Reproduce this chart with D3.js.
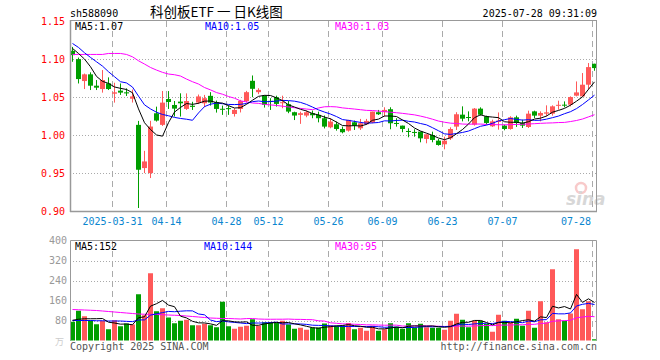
<!DOCTYPE html>
<html><head><meta charset="utf-8">
<script src="https://cdn.jsdelivr.net/npm/d3@7/dist/d3.min.js"></script>
<style>html,body{margin:0;padding:0;background:#fff;}svg{display:block;}</style>
</head><body>
<svg id="c" width="660" height="360"></svg>
<script>
const dates = ["2025-03-20","2025-03-21","2025-03-24","2025-03-25","2025-03-26","2025-03-27","2025-03-28","2025-03-31",
"2025-04-01","2025-04-02","2025-04-03","2025-04-07","2025-04-08","2025-04-09","2025-04-10","2025-04-11",
"2025-04-14","2025-04-15","2025-04-16","2025-04-17","2025-04-18","2025-04-21","2025-04-22","2025-04-23","2025-04-24","2025-04-25",
"2025-04-28","2025-04-29","2025-04-30","2025-05-06","2025-05-07","2025-05-08","2025-05-09",
"2025-05-12","2025-05-13","2025-05-14","2025-05-15","2025-05-16","2025-05-19","2025-05-20","2025-05-21","2025-05-22","2025-05-23",
"2025-05-26","2025-05-27","2025-05-28","2025-05-29","2025-05-30","2025-06-03","2025-06-04","2025-06-05","2025-06-06",
"2025-06-09","2025-06-10","2025-06-11","2025-06-12","2025-06-13","2025-06-16","2025-06-17","2025-06-18","2025-06-19","2025-06-20",
"2025-06-23","2025-06-24","2025-06-25","2025-06-26","2025-06-27","2025-06-30","2025-07-01","2025-07-02","2025-07-03","2025-07-04",
"2025-07-07","2025-07-08","2025-07-09","2025-07-10","2025-07-11","2025-07-14","2025-07-15","2025-07-16","2025-07-17","2025-07-18",
"2025-07-21","2025-07-22","2025-07-23","2025-07-24","2025-07-25","2025-07-28"];

const openP = [1.1109,1.100,1.0712,1.080,1.0651,1.0607,1.0682,1.0546,1.0586,1.0564,1.048,1.0137,0.957,0.9504,1.0289,1.0137,
1.0477,1.0398,1.0442,1.0346,1.0388,1.043,1.042,1.0518,1.0434,1.0348,1.0357,1.028,1.0346,1.045,1.0715,1.0566,1.0522,
1.0452,1.050,1.0421,1.0408,1.0303,1.0268,1.0259,1.029,1.0268,1.0224,1.0105,1.0145,1.0083,1.0061,1.0171,1.0092,1.0145,1.0167,1.0303,
1.0303,1.0342,1.0162,1.0127,1.0057,1.0044,1.0048,0.9952,1.0004,0.993,0.9882,0.996,1.0114,1.0271,1.024,1.014,1.035,1.0249,1.0118,1.0175,
1.0127,1.0083,1.0236,1.0162,1.0109,1.0314,1.0258,1.0284,1.0284,1.0393,1.0402,1.0402,1.052,1.0511,1.0664,1.0939];
const closeP = [1.1052,1.0738,1.080,1.0651,1.0625,1.0725,1.0607,1.0564,1.056,1.055,1.051,0.9548,0.9657,1.0115,1.0193,1.0429,
1.0437,1.035,1.042,1.045,1.0373,1.051,1.0487,1.043,1.0346,1.034,1.0343,1.0333,1.045,1.0566,1.061,1.0596,1.040,
1.0439,1.0412,1.0434,1.0311,1.0259,1.029,1.0303,1.0263,1.0224,1.0114,1.018,1.0083,1.004,1.0202,1.0127,1.0158,1.0189,1.0311,1.0276,
1.0333,1.0158,1.0154,1.0083,1.0048,1.0035,0.996,1.0013,0.9939,0.9873,0.993,1.0083,1.0276,1.0218,1.0231,1.035,1.027,1.0162,1.0183,1.0192,
1.0083,1.0236,1.0162,1.0127,1.0284,1.0258,1.0293,1.0301,1.038,1.040,1.0393,1.0502,1.0563,1.0664,1.0895,1.0882];
const highP = [1.116,1.102,1.081,1.0826,1.0725,1.0856,1.076,1.069,1.068,1.0616,1.060,1.0189,0.9796,1.019,1.0376,1.0581,
1.058,1.045,1.0551,1.055,1.044,1.0535,1.053,1.0566,1.0456,1.039,1.039,1.0355,1.0465,1.0583,1.0785,1.0618,1.0522,
1.0487,1.052,1.052,1.045,1.031,1.031,1.0325,1.0325,1.031,1.026,1.0224,1.018,1.0114,1.0202,1.0193,1.0215,1.0215,1.0311,1.0333,
1.0368,1.0368,1.0224,1.0127,1.0092,1.0079,1.0048,1.0013,1.0048,0.9952,0.9982,1.0105,1.0303,1.038,1.0314,1.0358,1.0367,1.0258,1.0205,1.030,
1.014,1.025,1.0258,1.0205,1.0323,1.0323,1.0314,1.0393,1.0393,1.0454,1.0445,1.0511,1.0707,1.0817,1.0948,1.0939];
const lowP = [1.0965,1.068,1.0607,1.0594,1.0594,1.056,1.0594,1.0429,1.053,1.0516,1.043,0.9046,0.9504,0.9439,1.018,1.0123,
1.0346,1.0246,1.0246,1.0333,1.0333,1.041,1.037,1.039,1.0298,1.0268,1.0268,1.0246,1.030,1.043,1.050,1.054,1.0364,
1.0333,1.0377,1.0355,1.029,1.020,1.015,1.0237,1.0224,1.017,1.009,1.0092,1.0061,1.0026,1.0048,1.007,1.007,1.0136,1.0158,1.0267,
1.0246,1.0079,1.0114,1.004,0.9974,0.9982,0.9908,0.9895,0.9908,0.9864,0.9816,0.9939,1.007,1.0183,1.0183,1.0127,1.0258,1.014,1.011,1.0074,
1.0066,1.0074,1.011,1.0096,1.0096,1.0227,1.0183,1.0249,1.0258,1.0336,1.0367,1.038,1.0511,1.0511,1.0598,1.0847];
const volume = [75,119,97,80,65,79,45,81,57,68,64,185,101,269,117,129,92,69,79,83,61,61,67,61,53,155,57,47,55,59,85,59,73,
73,71,79,64,47,51,43,52,52,68,61,59,60,70,45,51,39,59,39,45,69,55,47,69,52,67,53,51,51,43,79,107,83,53,79,79,66,35,103,
79,71,87,59,119,51,157,73,285,85,79,108,365,125,157,5];

const ma5Head = [1.114,1.1074,1.100,1.090];
const ma10Head = [1.1205,1.1153,1.1083,1.1022,1.0965,1.0908,1.0834,1.0769,1.0703];
const ma30Head = [1.1061,1.1061,1.1061,1.1061,1.1061,1.1061,1.1074,1.1074,1.1074,1.1061,1.103,1.0978,1.0935,1.089,1.0856,
1.0826,1.0804,1.0795,1.0778,1.0738,1.0703,1.0673,1.0627,1.0596,1.0561,1.0539,1.0509,1.0487,1.0452];
const vma5Head = [81,85,87,87];
const vma10Head = [80,80,80,80,79,79,78,78,78];
const vma30Head = [124,123,122,121,120,118,116,114,112,110,108,106,105,105,104,103,102,101,100,98,96,94,92,90,89,88,88,87,86];

const priceTicks = [1.15,1.10,1.05,1.00,0.95,0.90];
const volTicks = [400,320,240,160,80];
const dateTicks = ["2025-03-31","2025-04-14","2025-04-28","2025-05-12","2025-05-26","2025-06-09","2025-06-23","2025-07-07","2025-07-28"];

const RED = "#ff5959", GREEN = "#009e00", GRID = "#aaaaaa", FRAME = "#999999";
const MONO = "'DejaVu Sans Mono', monospace";

function ma(arr, n, head) {
  return arr.map((_, i) => i < n - 1 ? head[i] : d3.mean(arr.slice(i - n + 1, i + 1)));
}

const svg = d3.select("#c");
const L = 70, R = 597;
const x = d3.scaleBand().domain(dates).range([L - 0.5, L - 0.5 + dates.length * 6]);
const cx = d => x(d) + 3;
const y = d3.scaleLinear().domain([0.90, 1.15]).range([211.5, 21]);
const yv = d3.scaleLinear().domain([0, 400]).range([340.5, 240.5]);

const data = dates.map((d, i) => ({d, o: openP[i], c: closeP[i], h: highP[i], l: lowP[i], v: volume[i], up: closeP[i] >= openP[i]}));

// header
svg.append("text").attr("x", 70).attr("y", 17).attr("font-family", MONO).attr("font-size", 10).attr("fill", "#000").text("sh588090");
svg.append("text").attr("x", 150).attr("y", 17).attr("font-family", "'Noto Sans CJK SC', sans-serif").attr("font-size", 13.5).attr("fill", "#000")
  .attr("xml:space", "preserve").style("white-space", "pre").text("科创板ETF 一 日K线图");
svg.append("text").attr("x", 597).attr("y", 17).attr("text-anchor", "end").attr("font-family", MONO).attr("font-size", 10).attr("fill", "#000").text("2025-07-28 09:31:09");

// gridlines main
const gMain = svg.append("g");
gMain.selectAll("line.h").data(priceTicks.slice(1, 5)).join("line")
  .attr("x1", L).attr("x2", R).attr("y1", d => Math.round(y(d)) + 0.5).attr("y2", d => Math.round(y(d)) + 0.5)
  .attr("stroke", GRID).attr("stroke-dasharray", "1,2");
gMain.selectAll("line.v").data(dateTicks).join("line")
  .attr("x1", d => x(d) + 1).attr("x2", d => x(d) + 1)
  .attr("y1", 21).attr("y2", 211).attr("stroke", GRID).attr("stroke-dasharray", "6,4");

// volume gridlines
const gVol = svg.append("g");
gVol.selectAll("line.h").data(volTicks.slice(1)).join("line")
  .attr("x1", L).attr("x2", R).attr("y1", d => Math.round(yv(d)) + 0.5).attr("y2", d => Math.round(yv(d)) + 0.5)
  .attr("stroke", GRID).attr("stroke-dasharray", "1,2");
gVol.selectAll("line.v").data(dateTicks).join("line")
  .attr("x1", d => x(d) + 1).attr("x2", d => x(d) + 1)
  .attr("y1", 241).attr("y2", 340).attr("stroke", GRID).attr("stroke-dasharray", "6,4");

// watermark
const wm = svg.append("g").attr("opacity", 0.55);
wm.append("circle").attr("cx", 581).attr("cy", 188).attr("r", 5).attr("fill", "none").attr("stroke", "#f3a0a0").attr("stroke-width", 2.5);
wm.append("text").attr("x", 566).attr("y", 205).attr("font-family", "'DejaVu Sans', sans-serif").attr("font-style", "italic").attr("font-weight", "bold")
  .attr("font-size", 17).attr("fill", "#b8b8b8").text("sina");

// candles
const gc = svg.append("g");
gc.selectAll("line.w").data(data).join("line")
  .attr("x1", d => cx(d.d)).attr("x2", d => cx(d.d))
  .attr("y1", d => y(d.h)).attr("y2", d => y(d.l))
  .attr("stroke", d => d.up ? RED : GREEN).attr("stroke-width", 1);
gc.selectAll("rect").data(data).join("rect")
  .attr("x", d => x(d.d) + 0.5).attr("width", 5)
  .attr("y", d => y(Math.max(d.o, d.c)))
  .attr("height", d => Math.max(1, y(Math.min(d.o, d.c)) - y(Math.max(d.o, d.c))))
  .attr("fill", d => d.up ? RED : GREEN);

// MA lines main
const ma5 = ma(closeP, 5, ma5Head), ma10 = ma(closeP, 10, ma10Head), ma30 = ma(closeP, 30, ma30Head);
const lineP = d3.line().x((v, i) => cx(dates[i])).y(v => y(v));
[[ma30, "#ff00ff"], [ma10, "#0000ff"], [ma5, "#000000"]].forEach(([arr, col]) => {
  svg.append("path").attr("d", lineP(arr)).attr("fill", "none").attr("stroke", col).attr("stroke-width", 1);
});

// volume bars
svg.append("g").selectAll("rect").data(data).join("rect")
  .attr("x", d => x(d.d) + 0.5).attr("width", 5)
  .attr("y", d => yv(d.v)).attr("height", d => yv(0) - yv(d.v))
  .attr("fill", d => d.up ? RED : GREEN);
const vma5 = ma(volume, 5, vma5Head), vma10 = ma(volume, 10, vma10Head), vma30 = ma(volume, 30, vma30Head);
const lineV = d3.line().x((v, i) => cx(dates[i])).y(v => yv(v));
[[vma30, "#ff00ff"], [vma10, "#0000ff"], [vma5, "#000000"]].forEach(([arr, col]) => {
  svg.append("path").attr("d", lineV(arr)).attr("fill", "none").attr("stroke", col).attr("stroke-width", 1);
});

// frames
svg.append("rect").attr("x", L + 0.5).attr("y", 20.5).attr("width", R - L - 1).attr("height", 191).attr("fill", "none").attr("stroke", FRAME);
svg.append("path").attr("d", `M${L + 0.5},340.5V240.5H${R - 0.5}V340.5`).attr("fill", "none").attr("stroke", FRAME);
svg.append("line").attr("x1", L).attr("x2", R).attr("y1", 211.5).attr("y2", 211.5).attr("stroke", FRAME).attr("stroke-width", 1.5);
svg.append("line").attr("x1", L + 0.5).attr("x2", L + 0.5).attr("y1", 20).attr("y2", 212).attr("stroke", FRAME).attr("stroke-width", 1.5);

// price axis labels
svg.append("g").selectAll("text").data(priceTicks).join("text")
  .attr("x", 65).attr("y", d => y(d)).attr("dy", "0.35em").attr("text-anchor", "end")
  .attr("font-family", MONO).attr("font-size", 10).attr("fill", "#ff0000").text(d => d.toFixed(2));
// volume axis labels
svg.append("g").selectAll("text").data(volTicks).join("text")
  .attr("x", 67).attr("y", d => yv(d)).attr("dy", "0.35em").attr("text-anchor", "end")
  .attr("font-family", MONO).attr("font-size", 10).attr("fill", "#999999").text(d => d);
svg.append("text").attr("x", 64).attr("y", 345).attr("text-anchor", "end").attr("font-family", "'Noto Sans CJK SC', sans-serif")
  .attr("font-size", 9).attr("fill", "#cccccc").text("万");

// date labels
svg.append("g").selectAll("text").data(dateTicks).join("text")
  .attr("x", (d, i) => Math.min(x(d) + 1, i === dateTicks.length - 1 ? 576 : 9999)).attr("y", 225).attr("text-anchor", "middle")
  .attr("font-family", MONO).attr("font-size", 10).attr("fill", "#0a86cf")
  .text((d, i) => i === 0 ? d : d.slice(5));

// MA legends
const fmt2 = d3.format(".2f");
const legM = [["MA5:" + fmt2(ma5[ma5.length - 1]), "#000", 75], ["MA10:" + fmt2(ma10[ma10.length - 1]), "#0000ff", 205], ["MA30:" + fmt2(ma30[ma30.length - 1]), "#ff00ff", 335]];
legM.forEach(([t, c, xx]) => svg.append("text").attr("x", xx).attr("y", 30).attr("font-family", MONO).attr("font-size", 10).attr("fill", c).text(t));
const legV = [["MA5:" + Math.round(vma5[vma5.length - 1]), "#000", 75], ["MA10:" + Math.round(vma10[vma10.length - 1]), "#0000ff", 204], ["MA30:" + Math.round(vma30[vma30.length - 1]), "#ff00ff", 335]];
legV.forEach(([t, c, xx]) => svg.append("text").attr("x", xx).attr("y", 250).attr("font-family", MONO).attr("font-size", 10).attr("fill", c).text(t));

// footer
svg.append("text").attr("x", 70).attr("y", 350).attr("font-family", MONO).attr("font-size", 10).attr("fill", "#555").text("Copyright 2025 SINA.COM");
svg.append("text").attr("x", 597).attr("y", 350).attr("text-anchor", "end").attr("font-family", MONO).attr("font-size", 10).attr("fill", "#555").text("http://finance.sina.com.cn");
</script>
</body></html>
